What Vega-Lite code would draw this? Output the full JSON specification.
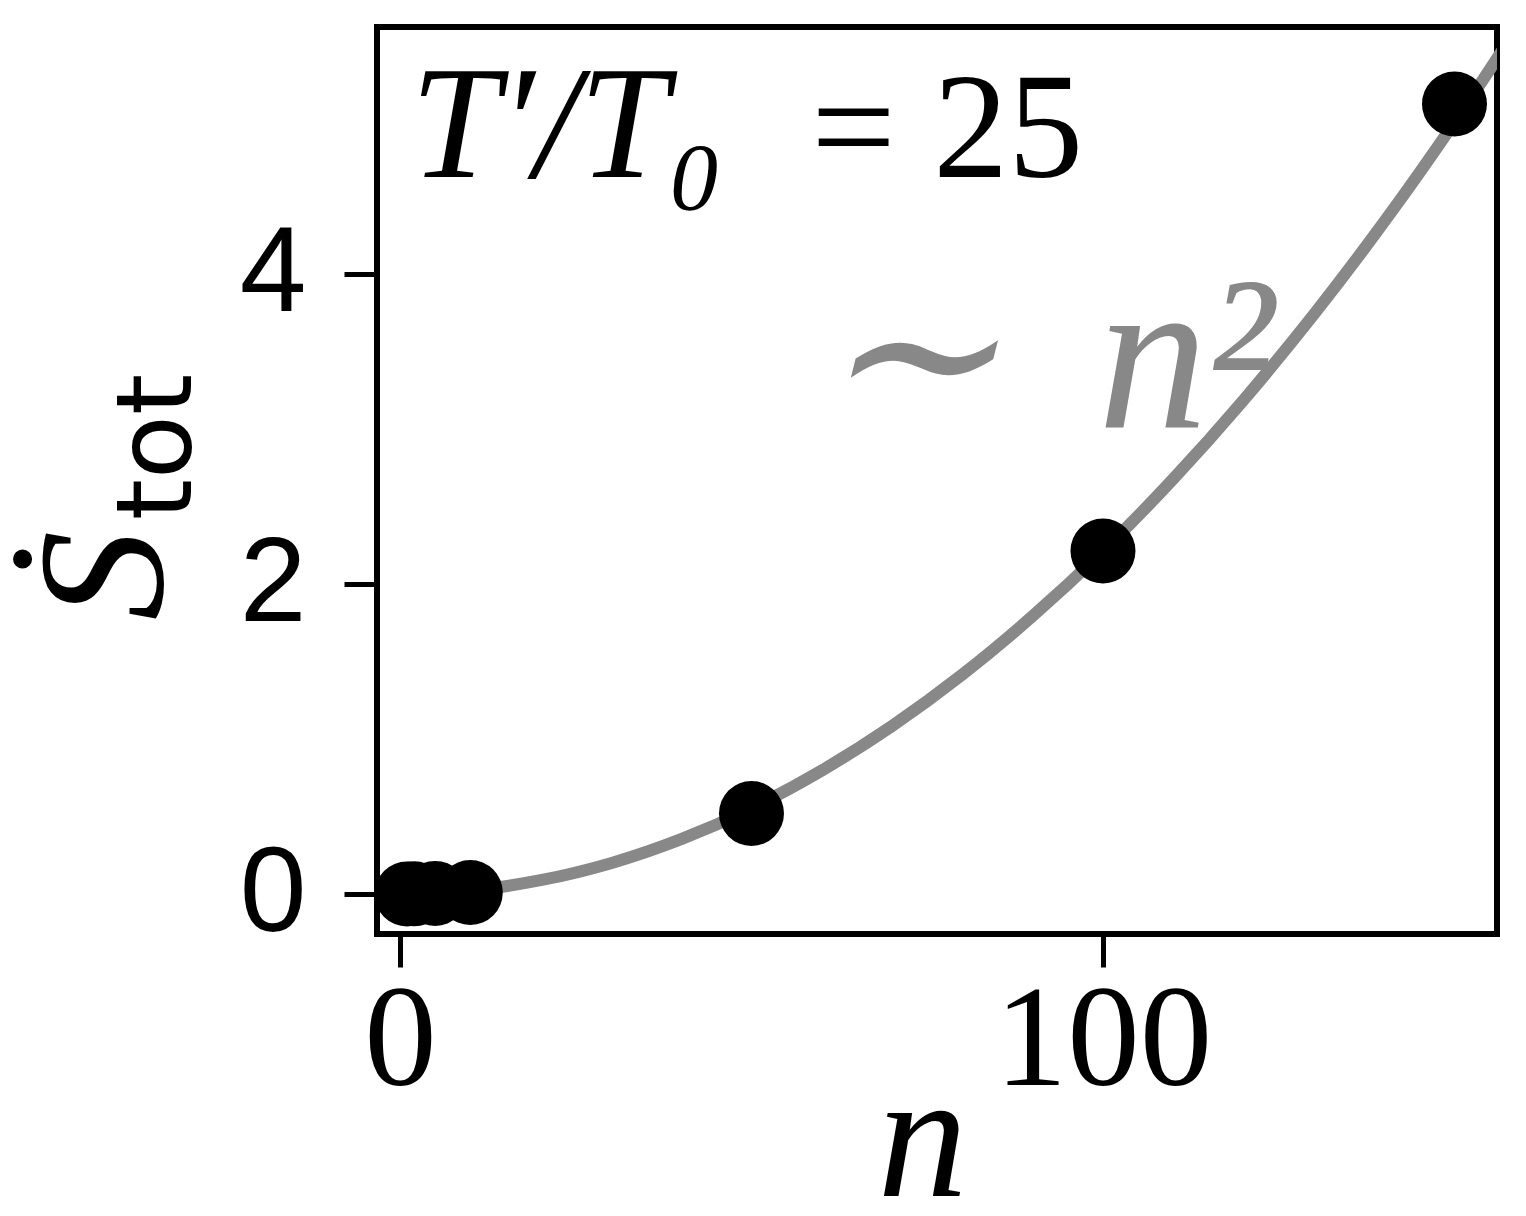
{
  "$schema": "https://vega.github.io/schema/vega-lite/v6.json",
  "autosize": "none",
  "padding": {"left": 377, "top": 27, "right": 29, "bottom": 282},
  "width": 1120,
  "height": 907,
  "background": "white",
  "datasets": {
    "points": [
      {"n": 1, "S": 0.0},
      {"n": 2, "S": 0.001},
      {"n": 5, "S": 0.004},
      {"n": 10, "S": 0.01},
      {"n": 50, "S": 0.52},
      {"n": 100, "S": 2.213},
      {"n": 150, "S": 5.097}
    ],
    "fit": [
      {"n": 0, "S": 0.0},
      {"n": 10, "S": 0.022},
      {"n": 20, "S": 0.089},
      {"n": 30, "S": 0.199},
      {"n": 40, "S": 0.354},
      {"n": 50, "S": 0.553},
      {"n": 60, "S": 0.797},
      {"n": 70, "S": 1.084},
      {"n": 80, "S": 1.416},
      {"n": 90, "S": 1.793},
      {"n": 100, "S": 2.213},
      {"n": 110, "S": 2.678},
      {"n": 120, "S": 3.187},
      {"n": 130, "S": 3.740},
      {"n": 140, "S": 4.337},
      {"n": 150, "S": 4.979},
      {"n": 160, "S": 5.665}
    ],
    "ratio": [
      {"n": 1.5, "S": 4.626, "label": "T′/T₀"}
    ],
    "value": [
      {"n": 58.5, "S": 4.626, "label": "= 25"}
    ],
    "scaling": [
      {"n": 59, "S": 3.006, "label": "∼\u2009 n²"}
    ],
    "ylab": [
      {"n": -34.3, "S": 2.884, "label": "tot"}
    ]
  },
  "layer": [
    {
      "data": {"name": "fit"},
      "mark": {"type": "line", "color": "#888888", "strokeWidth": 12, "clip": true, "interpolate": "monotone"},
      "encoding": {
        "x": {
          "field": "n",
          "type": "quantitative",
          "scale": {"domain": [-3.27, 156.05], "nice": false, "zero": false},
          "axis": {
            "values": [0, 100],
            "format": "d",
            "title": "n",
            "titleFont": "Liberation Serif, serif",
            "titleFontStyle": "italic",
            "titleFontWeight": "normal",
            "titleFontSize": 180,
            "titleBaseline": "alphabetic",
            "titleY": 261,
            "titleX": 545,
            "labelFont": "Liberation Serif",
            "labelFontSize": 145,
            "labelLimit": 1000,
            "labelOverlap": false,
            "labelPadding": 2
          }
        },
        "y": {
          "field": "S",
          "type": "quantitative",
          "scale": {"domain": [-0.258, 5.594], "nice": false, "zero": false},
          "axis": {
            "values": [0, 2, 4],
            "format": "d",
            "title": "Ṡ",
            "titleFont": "Liberation Serif, serif",
            "titleFontStyle": "italic",
            "titleFontWeight": "normal",
            "titleFontSize": 180,
            "titleAngle": 270,
            "titleAlign": "center",
            "titleBaseline": "middle",
            "titleX": -270,
            "titleY": 548,
            "labelFont": "Liberation Sans",
            "labelFontSize": 120,
            "labelPadding": 38
          }
        }
      }
    },
    {
      "data": {"name": "points"},
      "mark": {"type": "circle", "color": "black", "opacity": 1, "size": 4225},
      "encoding": {
        "x": {"field": "n", "type": "quantitative"},
        "y": {"field": "S", "type": "quantitative"}
      }
    },
    {
      "data": {"name": "ratio"},
      "mark": {"type": "text", "align": "left", "baseline": "alphabetic", "font": "Liberation Serif", "fontStyle": "italic", "fontSize": 160, "color": "black"},
      "encoding": {
        "x": {"field": "n", "type": "quantitative"},
        "y": {"field": "S", "type": "quantitative"},
        "text": {"field": "label"}
      }
    },
    {
      "data": {"name": "value"},
      "mark": {"type": "text", "align": "left", "baseline": "alphabetic", "font": "Liberation Serif", "fontSize": 150, "color": "black"},
      "encoding": {
        "x": {"field": "n", "type": "quantitative"},
        "y": {"field": "S", "type": "quantitative"},
        "text": {"field": "label"}
      }
    },
    {
      "data": {"name": "scaling"},
      "mark": {"type": "text", "align": "left", "baseline": "alphabetic", "font": "Liberation Serif", "fontStyle": "italic", "fontSize": 220, "color": "#888888"},
      "encoding": {
        "x": {"field": "n", "type": "quantitative"},
        "y": {"field": "S", "type": "quantitative"},
        "text": {"field": "label"}
      }
    },
    {
      "data": {"name": "ylab"},
      "mark": {"type": "text", "align": "center", "baseline": "middle", "angle": 270, "font": "DejaVu Sans", "fontSize": 105, "color": "black"},
      "encoding": {
        "x": {"field": "n", "type": "quantitative"},
        "y": {"field": "S", "type": "quantitative"},
        "text": {"field": "label"}
      }
    }
  ],
  "config": {
    "view": {"stroke": "black", "strokeWidth": 6},
    "axis": {
      "domain": false,
      "grid": false,
      "ticks": true,
      "tickSize": 33,
      "tickWidth": 5,
      "tickColor": "black",
      "labelColor": "black",
      "titleColor": "black"
    }
  }
}
